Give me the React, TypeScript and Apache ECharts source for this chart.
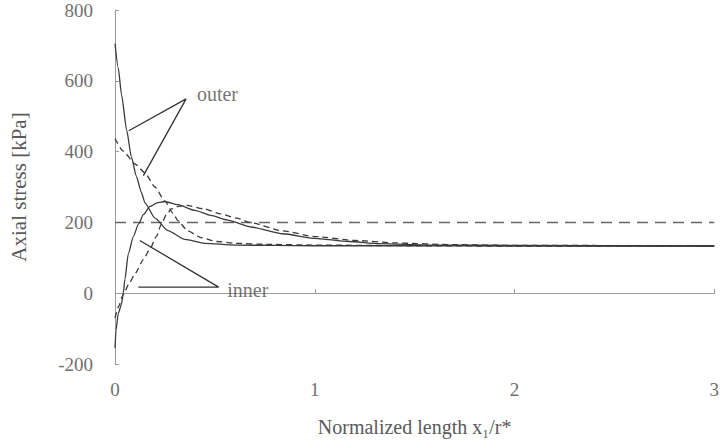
import React, { useEffect, useRef } from "react";
import * as echarts from "echarts";

// Normalized length x1/r* (x) and axial stress in kPa (y)
const outerSolidX = [0, 0.016, 0.033, 0.058, 0.082, 0.107, 0.132, 0.15, 0.2, 0.265, 0.35, 0.45, 0.6, 0.8, 1.0, 1.5, 2.0, 3.0];
const outerSolidY = [705, 637, 560, 462, 385, 330, 285, 255, 212, 177, 152, 141, 136, 135, 134, 134, 133, 133];

const outerDashedX = [0, 0.04, 0.1, 0.15, 0.2, 0.25, 0.29, 0.315, 0.364, 0.43, 0.51, 0.6, 0.76, 1.0, 1.5, 2.0, 3.0];
const outerDashedY = [437, 402, 365, 340, 300, 260, 226, 205, 176, 157, 146, 141, 138, 136, 134, 133, 133];

const innerSolidX = [0, 0.005, 0.016, 0.033, 0.041, 0.05, 0.066, 0.092, 0.117, 0.142, 0.175, 0.21, 0.25, 0.315, 0.4, 0.48, 0.56, 0.68, 0.84, 1.0, 1.17, 1.32, 1.6, 2.0, 3.0];
const innerSolidY = [-155, -105, -58, -30, -1, 40, 110, 160, 195, 222, 245, 255, 259, 250, 234, 220, 207, 187, 168, 155, 146, 140, 136, 135, 134];

const innerDashedX = [0, 0.02, 0.04, 0.074, 0.1, 0.142, 0.175, 0.207, 0.232, 0.257, 0.282, 0.32, 0.36, 0.447, 0.53, 0.611, 0.68, 0.84, 1.0, 1.2, 1.4, 1.7, 2.0, 3.0];
const innerDashedY = [-70, -35, -5, 31, 55, 95, 125, 160, 195, 222, 238, 246, 248, 238, 224, 212, 199, 176, 160, 149, 142, 137, 135, 134];

const refLineX = [0, 3];
const refLineY = [200, 200];

// annotation leader lines (data coordinates)
const outerLeaderX = [0.069, 0.356, 0.142];
const outerLeaderY = [459, 549, 332];
const innerLeaderX = [0.124, 0.519, 0.117];
const innerLeaderY = [149, 17, 17];
const annoLabels = ["outer", "inner"];
const annoX = [0.41, 0.562];
const annoY = [563, 8];

const yTicks = [-200, 0, 200, 400, 600, 800];
const xTicks = [0, 1, 2, 3];

const zip = (xs: number[], ys: number[]) => xs.map((x, i) => [x, ys[i]]);

const FONT = "Liberation Serif";
const INK = "#3a3a3a";

export default function App() {
  const ref = useRef<HTMLDivElement>(null);
  useEffect(() => {
    if (!ref.current) return;
    const chart = echarts.init(ref.current, undefined, { renderer: "svg" });
    const curve = (data: number[][], dashed: boolean) => ({
      type: "line",
      data,
      showSymbol: false,
      symbol: "none",
      smooth: 0.2,
      smoothMonotone: "x",
      silent: true,
      lineStyle: { color: INK, width: 1.3, type: dashed ? [6, 4] : "solid" },
    });
    const leader = (data: number[][]) => ({
      type: "line",
      data,
      symbol: "none",
      silent: true,
      lineStyle: { color: "#333", width: 1.3 },
    });
    chart.setOption({
      animation: false,
      backgroundColor: "#ffffff",
      textStyle: { fontFamily: FONT },
      grid: { left: 113, right: 3, top: 10, bottom: 78 },
      xAxis: {
        type: "value",
        min: xTicks[0],
        max: xTicks[xTicks.length - 1],
        interval: 1,
        name: "Normalized length x\u2081/r*",
        nameLocation: "middle",
        nameGap: 53,
        nameTextStyle: { fontFamily: FONT, fontSize: 20, color: "#5a5a5a" },
        axisLine: { show: true, lineStyle: { color: "#9a9a9a", width: 1 } },
        axisTick: { show: true, inside: true, length: 4, lineStyle: { color: "#9a9a9a" } },
        axisLabel: { fontFamily: FONT, fontSize: 19, color: "#707070", margin: 16, showMaxLabel: true },
        splitLine: { show: false },
      },
      yAxis: {
        type: "value",
        min: yTicks[0],
        max: yTicks[yTicks.length - 1],
        interval: 200,
        name: "Axial stress [kPa]",
        nameLocation: "middle",
        nameGap: 86,
        nameTextStyle: { fontFamily: FONT, fontSize: 21, color: "#5a5a5a" },
        axisLine: { show: true, lineStyle: { color: "#9a9a9a", width: 1 } },
        axisTick: { show: true, inside: true, length: 4, lineStyle: { color: "#9a9a9a" } },
        axisLabel: { fontFamily: FONT, fontSize: 19, color: "#707070", margin: 22 },
        splitLine: { show: false },
      },
      series: [
        {
          type: "line",
          data: zip(refLineX, refLineY),
          symbol: "none",
          silent: true,
          lineStyle: { color: "#6e6464", width: 1.5, type: [11, 7] },
        },
        curve(zip(outerSolidX, outerSolidY), false),
        curve(zip(outerDashedX, outerDashedY), true),
        curve(zip(innerSolidX, innerSolidY), false),
        curve(zip(innerDashedX, innerDashedY), true),
        leader(zip(outerLeaderX, outerLeaderY)),
        leader(zip(innerLeaderX, innerLeaderY)),
        {
          type: "scatter",
          data: annoX.map((x, i) => ({ value: [x, annoY[i]], name: annoLabels[i] })),
          symbolSize: 0,
          silent: true,
          label: {
            show: true,
            position: "right",
            distance: 0,
            formatter: (p: any) => p.name,
            fontFamily: FONT,
            fontSize: 20,
            color: "#505050",
          },
        },
      ],
    });
    return () => chart.dispose();
  }, []);
  return (
    <div
      ref={ref}
      style={{ position: "absolute", left: 0, top: 0, width: 722, height: 442, background: "#fff" }}
    />
  );
}
